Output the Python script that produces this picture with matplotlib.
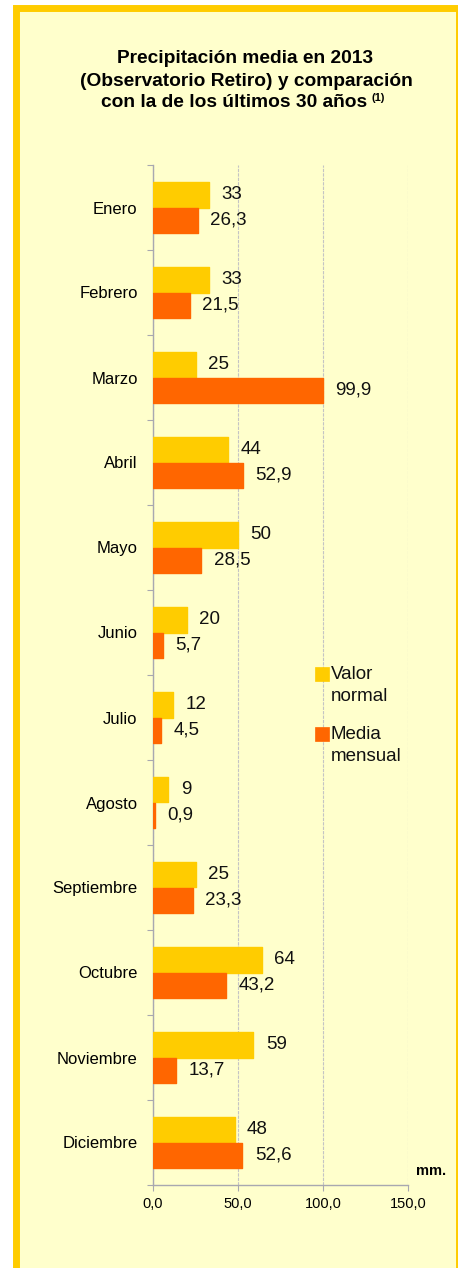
import matplotlib.pyplot as plt
from matplotlib.patches import Rectangle

meses = ['Enero', 'Febrero', 'Marzo', 'Abril', 'Mayo', 'Junio', 'Julio',
         'Agosto', 'Septiembre', 'Octubre', 'Noviembre', 'Diciembre']
valor_normal = [33, 33, 25, 44, 50, 20, 12, 9, 25, 64, 59, 48]
media_mensual = [26.3, 21.5, 99.9, 52.9, 28.5, 5.7, 4.5, 0.9, 23.3, 43.2, 13.7, 52.6]
xticks = [0, 50, 100, 150]

amarillo = '#FFCC00'
naranja = '#FF6600'
fondo = '#FFFFCC'
gris = '#A8A8B0'

plt.rcParams['font.family'] = ['Liberation Sans', 'DejaVu Sans']

W, H = 458, 1268
fig = plt.figure(figsize=(W / 100, H / 100), dpi=100)
fig.patch.set_facecolor('white')

# marco amarillo
fig.patches.append(Rectangle((16 / W, -0.05), 443 / W, 1 - 7.5 / H + 0.05,
                             transform=fig.transFigure, facecolor=fondo,
                             edgecolor=amarillo, linewidth=5, zorder=-5))

ax = fig.add_axes([153 / W, 83 / H, 255 / W, 1020 / H])
ax.set_facecolor('none')

y = list(range(len(meses)))
h = 0.3
y1 = [i - h / 2 for i in y]
y2 = [i + h / 2 for i in y]
ax.barh(y1, valor_normal, height=h, color=amarillo, edgecolor=amarillo,
        linewidth=1, joinstyle='round', zorder=3)
ax.barh(y2, media_mensual, height=h, color=naranja, edgecolor=naranja,
        linewidth=1, joinstyle='round', zorder=3)

def etiqueta(v):
    s = ('%.1f' % v) if v != int(v) else '%d' % v
    return s.replace('.', ',')

for yy, v in zip(y1, valor_normal):
    ax.annotate(etiqueta(v), (v, yy), xytext=(9, 0), textcoords='offset points',
                va='center', ha='left', fontsize=13.5, color='#111111')
for yy, v in zip(y2, media_mensual):
    ax.annotate(etiqueta(v), (v, yy), xytext=(9, 0), textcoords='offset points',
                va='center', ha='left', fontsize=13.5, color='#111111')

ax.set_xlim(0, 150)
ax.set_ylim(len(meses) - 0.5, -0.5)
ax.set_xticks(xticks)
ax.set_xticklabels([('%.1f' % t).replace('.', ',') for t in xticks], fontsize=10.5)
ax.set_yticks([i - 0.5 for i in range(len(meses) + 1)])
ax.set_yticklabels([])
ax.set_yticks(y, minor=True)
ax.set_yticklabels(meses, minor=True, fontsize=12)
ax.tick_params(axis='y', which='major', length=4, color=gris, direction='out')
ax.tick_params(axis='y', which='minor', length=0, pad=11)
ax.tick_params(axis='x', length=4, color=gris, pad=5)

ax.grid(axis='x', color='#C4C4C4', linestyle=(0, (3, 1)), linewidth=0.8, zorder=0)
for s in ['top', 'right']:
    ax.spines[s].set_visible(False)
for s in ['left', 'bottom']:
    ax.spines[s].set_color(gris)
    ax.spines[s].set_linewidth(1)

# titulo
fig.text(245 / W, 1 - 63 / H, 'Precipitación media en 2013', ha='center',
         va='baseline', fontsize=13.8, fontweight='bold')
fig.text(246 / W, 1 - 86 / H, '(Observatorio Retiro) y comparación', ha='center',
         va='baseline', fontsize=13.8, fontweight='bold')
fig.text(234 / W, 1 - 107 / H, 'con la de los últimos 30 años', ha='center',
         va='baseline', fontsize=13.8, fontweight='bold')
fig.text(372 / W, 1 - 101 / H, '(1)', ha='left', va='baseline', fontsize=8,
         fontweight='bold')

# leyenda
for col, lineas, ytop in [(amarillo, ['Valor', 'normal'], 667),
                          (naranja, ['Media', 'mensual'], 727)]:
    fig.patches.append(Rectangle((315 / W, 1 - (ytop + 14) / H), 14 / W, 14 / H,
                                 transform=fig.transFigure, facecolor=col,
                                 edgecolor=col, linewidth=0.5, zorder=3))
    for k, txt in enumerate(lineas):
        fig.text(331 / W, 1 - (ytop + 12 + 22 * k) / H, txt, ha='left',
                 va='baseline', fontsize=13.5, color='#111111')

fig.text(416 / W, 1 - 1175 / H, 'mm.', ha='left', va='baseline', fontsize=10.5,
         fontweight='bold')

fig.savefig('out.png', dpi=100, facecolor=fig.get_facecolor())
